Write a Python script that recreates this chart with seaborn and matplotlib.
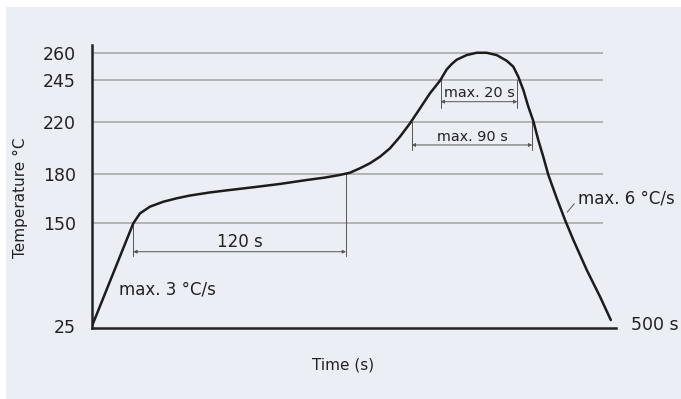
import numpy as np
import pandas as pd
import matplotlib
matplotlib.use("Agg")
import matplotlib.pyplot as plt
import seaborn as sns

# ---- data ----
time_s = [0, 39.8, 46.3, 55.9, 68.7, 81.6, 94.4, 113.7, 133.0, 157.1, 181.2,
          206.9, 224.5, 239.0, 248.6, 258.3, 267.9, 277.6, 287.2, 296.8, 306.5,
          316.1, 325.7, 335.4, 341.8, 346.7, 351.5, 361.1, 370.7, 380.4, 390.0, 399.7,
          406.0, 410.8, 415.7, 420.5, 425.3, 430.1, 434.9, 439.8, 447.9, 455.9,
          463.9, 476.8, 489.6, 500.0]
temp_c = [25, 150, 156.1, 160.2, 163.2, 165.3, 167.0, 168.9, 170.4, 172.2, 174.1,
          176.5, 178.0, 179.6, 181.2, 184.6, 188.4, 193.4, 199.8, 208.6, 218.8,
          228.0, 237.0, 244.6, 250.9, 254.0, 256.4, 259.0, 260.3, 260.3, 259.0, 255.8,
          252.5, 246.9, 239.0, 229.0, 220.4, 206.1, 193.4, 179.6, 165.3, 152.0,
          129.7, 93.2, 60.7, 32.3]
ytick_vals = [25, 150, 180, 220, 245, 260]
ytick_labels = ["25", "150", "180", "220", "245", "260"]
grid_vals = [150, 180, 220, 245, 260]

# schematic (non-linear) temperature axis: piecewise linear scale
scale_T = [-2000, 25, 150, 180, 220, 245, 260, 2000]
p_core = [0, 102.7, 151.7, 204.3, 246, 272.7]
lo_slope = 102.7 / 125
hi_slope = (272.7 - 246) / 15
scale_P = [0 - (25 + 2000) * lo_slope] + p_core + [272.7 + (2000 - 260) * hi_slope]


def fwd(t):
    return np.interp(t, scale_T, scale_P)


def inv(p):
    return np.interp(p, scale_P, scale_T)


W, H = 681, 399
fig = plt.figure(figsize=(W / 100, H / 100), dpi=100)
sns.set_style("white")
plt.rcParams['font.family'] = ['DejaVu Sans']
fig.patch.set_facecolor("white")
bg = plt.Rectangle((6 / W, 0), 1 - 6 / W, 1 - 7 / H, transform=fig.transFigure,
                   facecolor="#ebeef5", edgecolor="none", zorder=-10)
fig.add_artist(bg)

ax_l, ax_r = 92, 616
ax_top, ax_bot = 45, 327.7
ax = fig.add_axes([ax_l / W, (H - ax_bot) / H, (ax_r - ax_l) / W, (ax_bot - ax_top) / H])
ax.set_zorder(1)
ax.patch.set_visible(False)
ax.set_yscale("function", functions=(fwd, inv))
ax.set_xlim(0, 505)
ax.set_ylim(inv(326 - ax_bot), inv(326 - ax_top))

txt = "#222222"
dim = "#555555"

# gridlines
ax.hlines(grid_vals, 0, 492.5, color="#a3a3a3", lw=1.1, zorder=1)

df = pd.DataFrame({"Time": time_s, "Temp": temp_c})
sns.lineplot(data=df, x="Time", y="Temp", ax=ax, color="#1c1c1c", lw=1.8,
             sort=False, zorder=5, solid_joinstyle="round", solid_capstyle="round")

# spines
for s in ["top", "right"]:
    ax.spines[s].set_visible(False)
for s in ["left", "bottom"]:
    ax.spines[s].set_linewidth(1.8)
    ax.spines[s].set_color("#222222")

ax.set_yticks(ytick_vals)
ax.set_yticklabels(ytick_labels)
ax.set_xticks([])
ax.tick_params(axis="y", length=0, pad=11.5, labelsize=12.5, labelcolor=txt)

ax.set_ylabel("Temperature °C", fontsize=11, color=txt, va="center")
ax.yaxis.set_label_coords((20 - ax_l) / (ax_r - ax_l), (ax_bot - 198) / (ax_bot - ax_top))
ax.set_xlabel("Time (s)", fontsize=11, color=txt, va="center")
ax.xaxis.set_label_coords((342.7 - ax_l) / (ax_r - ax_l), -(365 - ax_bot) / (ax_bot - ax_top))


def dimension(x1, x2, y, ytop1, ytop2, ybot, label, ly, fs):
    ax.plot([x1, x1], [ytop1, ybot], color=dim, lw=0.7, zorder=3)
    ax.plot([x2, x2], [ytop2, ybot], color=dim, lw=0.7, zorder=3)
    ax.annotate("", xy=(x2, y), xytext=(x1, y),
                arrowprops=dict(arrowstyle="<|-|>", mutation_scale=5, lw=0.7,
                                color=dim, shrinkA=0, shrinkB=0), zorder=3)
    ax.text((x1 + x2) / 2, ly, label, ha="center", va="center", fontsize=fs, color=txt)


dimension(39.8, 244.8, 115.4, 150, 180, 110.2, "120 s", 127.6, 12)
dimension(336.0, 409.9, 232.0, 245, 245, 228.2, "max. 20 s", 237.0, 10.4)
dimension(308.1, 424.3, 202.3, 220, 220, 198.5, "max. 90 s", 208.6, 10.4)

ax.text(26.3, 69.7, "max. 3 °C/s", ha="left", va="center", fontsize=12, color=txt)
ax.text(468.7, 165.1, "max. 6 °C/s", ha="left", va="center", fontsize=12, color=txt,
        clip_on=False)
ax.plot([458.0, 464.8], [156.8, 162.0], color=dim, lw=0.7, zorder=3)
ax.text(519.1, 26.5, "500 s", ha="left", va="center", fontsize=12.5, color=txt,
        clip_on=False)

fig.savefig("out.png", dpi=100, facecolor=fig.get_facecolor())
